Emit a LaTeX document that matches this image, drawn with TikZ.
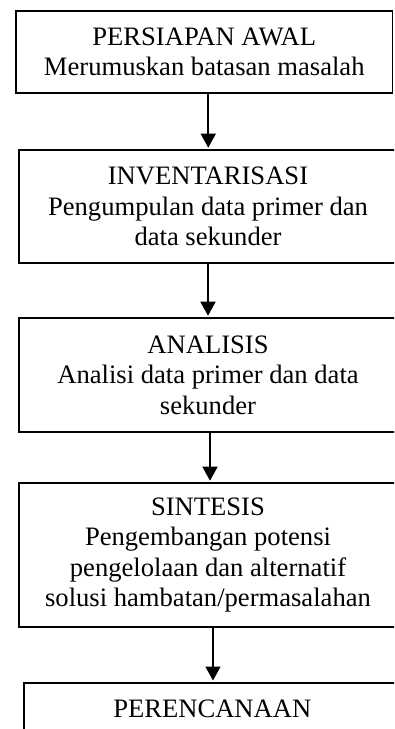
\documentclass[tikz,border=0pt]{standalone}
\usepackage{fontspec}
\setmainfont{Liberation Serif}
\usetikzlibrary{arrows.meta}
\tikzset{
  boxnode/.style={draw, line width=1.6pt, align=center, inner sep=0pt,
    font=\fontsize{26.6}{30.5}\selectfont},
  arr/.style={line width=1.6pt, -{Triangle[width=15pt,length=14pt]}, shorten >=1.5pt}
}
\begin{document}
\begin{tikzpicture}[x=1pt,y=-1pt]
\useasboundingbox (0,0) rectangle (394,729);
\clip (0,0) rectangle (394,729);
\node[boxnode, minimum width=376.5pt, minimum height=81.5pt] (B1) at (204.25,52)
  {PERSIAPAN AWAL\\Merumuskan batasan masalah};
\node[boxnode, minimum width=378pt, minimum height=113pt] (B2) at (208,206.5)
  {INVENTARISASI\\Pengumpulan data primer dan\\data sekunder};
\node[boxnode, minimum width=378pt, minimum height=114pt] (B3) at (208,375)
  {ANALISIS\\Analisi data primer dan data\\sekunder};
\node[boxnode, minimum width=378pt, minimum height=144pt] (B4) at (208,555)
  {SINTESIS\\Pengembangan potensi\\pengelolaan dan alternatif\\solusi hambatan/permasalahan};
\node[boxnode, anchor=north west, minimum width=377pt, inner ysep=17pt, text depth=80pt] (B5) at (23,682)
  {PERENCANAAN};
\draw[arr] ([xshift=4pt]B1.south) -- ([xshift=4pt]B1.south |- B2.north);
\draw[arr] (B2.south) -- (B2.south |- B3.north);
\draw[arr] ([xshift=2pt]B3.south) -- ([xshift=2pt]B3.south |- B4.north);
\draw[arr] ([xshift=5pt]B4.south) -- ([xshift=5pt]B4.south |- B5.north);
\end{tikzpicture}
\end{document}
